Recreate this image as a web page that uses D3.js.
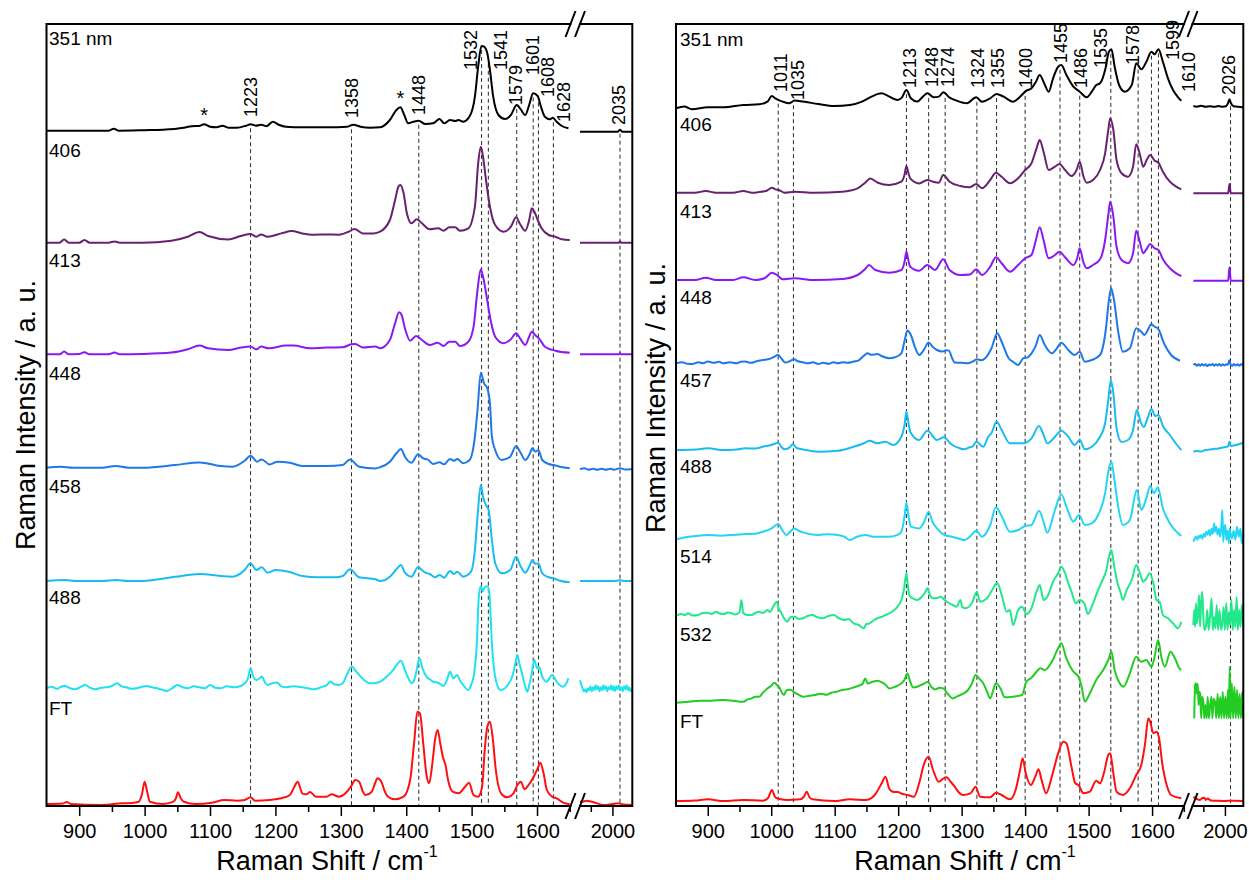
<!DOCTYPE html>
<html>
<head>
<meta charset="utf-8">
<script src="https://cdn.jsdelivr.net/npm/d3@7"></script>
<style>
  body { margin: 0; background: #fff; }
  svg { display: block; }
  text { font-family: "Liberation Sans", Arial, Helvetica, sans-serif; fill: #000; }
</style>
</head>
<body>
<svg id="chart" width="1249" height="882"></svg>
<script>
// ---------------------------------------------------------------------------
// Resonance Raman spectra at several excitation wavelengths plus FT-Raman.
// Each trace: [Raman shift (cm-1), intensity above its own baseline (a.u.)].
// "...Tail" arrays hold the part of a trace beyond the axis break.
// ---------------------------------------------------------------------------

// ---------- left panel ----------
const leftLabels  = ["351 nm", "406", "413", "448", "458", "488", "FT"];
const leftOffsets = [675.3, 563.3, 451.7, 338.3, 225, 117.7, 2];

const L351 = [[850,0],[900,0],[945,0],[953,2],[960,0],[1000,0.5],[1028,1],[1060,3],[1072,4.5],[1085,5],[1091,6.5],[1100,4],[1110,3.5],[1119,5],[1128,3],[1141,3],[1155,5],[1162,6.5],[1170,5],[1178,6],[1186,4.5],[1196,9],[1205,6],[1216,4],[1240,3.5],[1280,3.5],[1310,4],[1319,6],[1330,4],[1345,3],[1360,3.4],[1375,10.7],[1385,20.7],[1391,23.4],[1397,15.7],[1403,7.4],[1411,9],[1419,10],[1429,6.7],[1441,7.4],[1451,11.7],[1458,7.4],[1467,10.7],[1475,9.7],[1480,10.7],[1487,9],[1498,15.7],[1505,34],[1510,64],[1515,84.7],[1519,84],[1524,77.4],[1528,60.7],[1533,34],[1541,15.7],[1551,11.7],[1560,15.7],[1569,25.7],[1574,22.4],[1582,15.7],[1588,25.7],[1594,37.4],[1601,34.7],[1606,24],[1612,14],[1620,11.4],[1624,13],[1630,9],[1638,4.7],[1648,2.4]];
const L351Tail = [[1850,-1],[1900,-1],[1960,-1],[2025,-1],[2035,1],[2045,-1],[2092,-1]];

const L406 = [[850,0],[870,0],[877,3.3],[884,0],[900,0],[908,2.7],[916,0],[945,0],[954,1.3],[962,0],[997,0],[1041,2],[1066,6],[1084,10.7],[1097,6.7],[1128,3.3],[1147,6.7],[1162,8.7],[1171,6],[1178,8.3],[1188,6],[1209,9.3],[1225,11.7],[1241,9.3],[1259,8],[1278,8.3],[1297,8],[1312,11],[1321,13.7],[1334,9.3],[1350,9.3],[1360,11],[1375,22.7],[1383,42.7],[1388,56],[1391,57.7],[1396,49.4],[1401,29.4],[1408,19.4],[1416,23.4],[1424,19.4],[1436,13.4],[1449,14.4],[1457,12],[1466,15.4],[1475,15.4],[1482,12],[1495,14.4],[1505,36],[1510,79.4],[1514,96],[1517,87.7],[1522,62.7],[1528,36],[1536,17.7],[1549,11],[1560,16],[1568,25.4],[1574,18.7],[1582,12],[1588,22.7],[1592,34.4],[1596,31],[1601,22.7],[1607,14.4],[1618,7.7],[1628,6],[1638,3.4],[1650,2.7]];
const L406Tail = [[1850,0],[1950,0],[2030,0],[2035,1.5],[2040,0],[2092,0]];

const L413 = [[850,0],[870,0],[877,2.7],[884,0],[900,0.3],[908,2],[916,0],[945,0],[954,1.7],[962,0],[997,0.3],[1041,1.7],[1066,5],[1084,8.7],[1097,6],[1128,4.3],[1147,6.7],[1162,7.7],[1171,5],[1178,7.7],[1190,6],[1216,8.7],[1228,8.7],[1253,6],[1278,6.7],[1303,7],[1316,10],[1322,10.3],[1334,6.7],[1353,7.7],[1360,6],[1375,14.3],[1383,31],[1389,42],[1393,39.3],[1398,26],[1406,13.6],[1415,18.3],[1424,14.3],[1436,9.3],[1448,11.6],[1457,8.3],[1466,12.6],[1475,12.6],[1482,8.3],[1495,12.6],[1503,27.6],[1509,64.3],[1514,85],[1518,76],[1523,57.6],[1529,34.3],[1536,17.6],[1549,11],[1560,15],[1568,21],[1574,16],[1582,9.3],[1588,17.6],[1592,22.6],[1597,19.3],[1604,15],[1612,7.6],[1628,3.6],[1650,1.6]];
const L413Tail = [[1850,0],[2030,0],[2035,1.3],[2040,0],[2092,0]];

const L448 = [[850,0],[872,1],[890,0],[909,0],[935,0],[956,1.7],[975,0],[997,0],[1047,2.7],[1084,5.3],[1116,1.7],[1134,1],[1153,7],[1162,12],[1172,6],[1179,8.3],[1191,3.3],[1203,6],[1222,5],[1241,1.7],[1278,1.7],[1303,2.7],[1314,8.3],[1328,1],[1353,-0.7],[1360,0.4],[1375,6],[1385,14.4],[1392,18.7],[1398,11],[1408,5],[1418,13.4],[1426,9.4],[1434,7.7],[1441,3.7],[1451,5.4],[1458,3.4],[1467,8.7],[1473,7],[1478,8.7],[1487,4.4],[1497,7.7],[1505,31],[1509,57.7],[1514,95],[1519,84.4],[1524,79.4],[1528,64.4],[1531,31],[1536,17.7],[1546,7.7],[1559,11],[1568,21.7],[1574,16],[1582,7.7],[1588,12.7],[1593,19.4],[1598,16],[1602,17.7],[1608,7.7],[1618,3.7],[1625,2.7],[1635,1],[1650,-0.6]];
const L448Tail = [[1850,-1.6],[1870,-0.5],[1890,-2],[1910,-1],[1930,-2],[1950,-1],[1970,-2],[1990,-1],[2010,-2],[2035,-0.5],[2060,-1.8],[2092,-1.2]];

const L458 = [[850,0],[878,1],[895,0],[909,0],[935,0],[956,1],[975,0],[997,0],[1047,4.3],[1084,7],[1116,5],[1134,4.3],[1153,11],[1162,17.7],[1171,11],[1179,13.7],[1188,8.3],[1200,11],[1222,9],[1241,5],[1266,3.7],[1291,3.7],[1303,5],[1314,11.7],[1328,3.7],[1353,1.7],[1360,0],[1375,4.3],[1385,11.7],[1392,16],[1398,8.3],[1408,4.3],[1418,13.7],[1429,8.3],[1436,7],[1444,3.7],[1451,6],[1458,3.3],[1467,10],[1473,7],[1478,9.3],[1487,4.3],[1499,9.3],[1505,31],[1509,64.3],[1514,96],[1518,82.7],[1522,76],[1526,71],[1531,41],[1536,17.7],[1546,7.7],[1559,11],[1568,24.3],[1574,16],[1582,8.3],[1588,14.3],[1593,21],[1598,17],[1602,17.7],[1608,7.7],[1618,3.7],[1625,2.7],[1635,0.3],[1650,-1.3]];
const L458Tail = [[1850,0],[1950,0],[2000,0],[2035,0.7],[2060,0],[2092,0]];

const L488 = [[850,0],[858,1.5],[866,-0.5],[872,1.5],[878,2.3],[886,0],[894,-1],[901,1],[909,3.3],[917,0.5],[925,-1],[933,0.5],[941,1],[949,2],[958,5],[965,2],[972,1],[980,-0.5],[988,0],[996,1.5],[1003,2.3],[1011,1],[1019,0],[1027,-1.5],[1034,-2.7],[1042,0],[1050,3.3],[1058,1],[1066,0],[1075,2],[1084,1],[1092,0],[1100,3.3],[1108,0.5],[1116,0],[1125,2],[1137,1],[1146,2],[1153,5],[1158,10],[1162,20],[1166,12],[1171,8.3],[1176,10],[1179,11.7],[1184,6],[1188,3.3],[1195,5],[1202,5.7],[1209,2],[1216,1],[1228,2],[1241,1],[1250,0],[1259,-1],[1266,0],[1272,1.7],[1278,3],[1284,6.7],[1290,4],[1297,3.3],[1304,6],[1309,13.3],[1317,21.7],[1322,18],[1328,13.3],[1336,8],[1344,5],[1352,5],[1360,6.6],[1370,11.6],[1380,18.3],[1386,24],[1392,27.6],[1398,18.3],[1404,9],[1408,5],[1412,8],[1415,15],[1420,30],[1425,20],[1431,11.6],[1436,9],[1441,6.6],[1449,5.6],[1457,2.3],[1462,8],[1467,16.6],[1472,10],[1478,13.3],[1482,8],[1487,3.3],[1495,-1.7],[1499,3],[1503,11.6],[1508,45],[1511,92],[1514,102],[1517,97],[1520,101],[1524,102],[1527,96],[1531,45],[1536,11.6],[1544,-1.7],[1551,0],[1556,4],[1562,11.6],[1567,25],[1570,33.3],[1573,25],[1577,15],[1581,4],[1585,-3.4],[1588,3],[1591,11.6],[1596,28.3],[1600,20],[1603,21.6],[1608,11.6],[1615,6.6],[1619,10],[1623,13.3],[1627,10],[1630,6.6],[1635,3],[1640,1.6],[1644,4],[1648,10]];
const L488Tail = [[1850,8],[1856,4],[1862,0],[1868,-3],[1874,-1],[1880,-4],[1886,0],[1892,-2],[1898,2],[1904,-3],[1910,1],[1916,-2],[1922,3],[1928,-1],[1934,2],[1940,-3],[1946,1],[1952,-2],[1958,3],[1964,-1],[1970,2],[1976,-3],[1982,1],[1988,-1],[1994,3],[2000,-2],[2006,2],[2012,-3],[2018,2],[2024,-1],[2030,3],[2036,-2],[2042,1],[2048,-3],[2054,2],[2060,-1],[2066,3],[2072,-2],[2078,1],[2084,-3],[2092,0]];

const LFT = [[850,0],[875,0.5],[881,2],[887,0],[934,-1],[966,0.7],[980,1],[991,2.3],[996,10],[1000,22.3],[1004,12],[1008,2.3],[1028,0],[1044,2.3],[1048,6],[1051,11.7],[1055,6],[1060,2.3],[1078,0],[1103,1.3],[1122,4],[1141,3.3],[1153,4],[1162,6.7],[1169,3.3],[1191,4],[1209,5.7],[1222,9],[1229,17.3],[1234,22.3],[1238,16],[1241,10.7],[1247,9.7],[1253,12],[1262,7.3],[1278,7.3],[1286,9.7],[1297,7.3],[1309,12],[1316,18],[1322,24],[1328,22.3],[1334,12],[1338,9],[1347,12],[1352,20],[1356,25.7],[1362,22.3],[1367,13],[1372,7.3],[1383,4.7],[1396,7.3],[1406,24],[1412,60.7],[1417,92.3],[1421,90.7],[1426,60.7],[1431,29],[1435,20.7],[1440,40.7],[1444,64],[1448,74],[1452,60.7],[1456,47.3],[1460,39],[1464,24],[1471,12.3],[1480,10.7],[1490,17.3],[1496,21.3],[1503,9],[1510,7.3],[1516,17.3],[1520,54],[1524,77.3],[1528,82.3],[1532,67.3],[1537,34],[1545,10.7],[1554,6.7],[1564,10.7],[1570,19],[1575,22.3],[1581,14.7],[1587,19],[1595,27.3],[1601,35.7],[1605,41.3],[1610,30.7],[1615,14],[1623,7.3],[1630,5.7],[1640,1.3],[1650,-0.3]];
const LFTTail = [[1850,2.3],[1858,2.3],[1881,3.3],[1900,2.5],[1920,1.3],[1958,-1],[2000,0],[2028,0.7],[2050,-0.5],[2092,-1]];

const leftMain = [L351, L406, L413, L448, L458, L488, LFT];
const leftTail = [L351Tail, L406Tail, L413Tail, L448Tail, L458Tail, L488Tail, LFTTail];

// band positions marked on the left panel (cm-1)
const leftBands = [1223, 1358, 1448, 1532, 1541, 1579, 1601, 1608, 1628];
const leftTailBands = [2035];
// bands flagged with an asterisk on the top trace
const leftStarred = [1091, 1391];

// ---------- right panel ----------
const rightLabels  = ["351 nm", "406", "413", "448", "457", "488", "514", "532", "FT"];
const rightOffsets = [697.7, 613.3, 526, 442.7, 356, 269.3, 191, 104.3, 5];

const R351 = [[850,0],[863,1.7],[875,-1],[900,1],[925,1],[956,3.3],[981,4],[994,6.7],[1001,12.3],[1007,9.7],[1018,6.7],[1028,5],[1037,7.7],[1050,6.7],[1074,4.3],[1099,2.3],[1124,3.3],[1143,6.7],[1158,11.7],[1174,15],[1183,12.7],[1199,8.3],[1206,11],[1213,18.3],[1220,10],[1230,6.7],[1239,11.7],[1246,15],[1256,11],[1264,11.7],[1271,16],[1281,10.7],[1292,7.7],[1308,5],[1323,11],[1332,6.6],[1345,10],[1355,14.3],[1366,11.6],[1381,6.6],[1392,11.6],[1402,17.6],[1410,20],[1417,26.6],[1423,33.3],[1430,25],[1437,16.6],[1444,30],[1452,41.6],[1457,43.3],[1465,33.3],[1476,21.6],[1486,16.6],[1497,11],[1505,16.6],[1512,23.3],[1518,25],[1526,38.3],[1532,56.6],[1536,59],[1541,41.6],[1548,23.3],[1557,16.6],[1568,23.3],[1575,45],[1583,39],[1591,46.6],[1599,56.6],[1604,54],[1610,59],[1617,46.6],[1625,30],[1633,18.3],[1641,11],[1646,7.6]];
const R351Tail = [[1854,2.3],[1870,1.6],[1890,2.5],[1910,1.5],[1930,2],[1950,1.6],[1970,2.2],[1990,1.6],[2005,2],[2014,5],[2021,9],[2028,5],[2040,2],[2060,1.6],[2085,1]];

const R406 = [[850,0],[880,0],[897,1.7],[913,0],[940,0],[956,1.7],[970,0],[981,0.7],[993,2],[1001,5],[1007,3.3],[1012,2.7],[1021,0],[1037,1],[1068,0],[1112,1],[1136,4.3],[1148,10],[1156,14.3],[1168,10],[1186,7.7],[1205,11],[1210,18],[1213,26.7],[1216,20],[1219,14.3],[1233,9.3],[1246,12.7],[1255,11],[1264,10],[1271,17.7],[1281,11],[1298,6.7],[1313,5.5],[1323,8.7],[1332,4.4],[1345,12.7],[1354,20],[1363,16],[1376,9.4],[1389,14.4],[1400,22.7],[1410,29.4],[1418,44.4],[1423,52.7],[1429,41],[1437,22.7],[1447,26],[1454,28.7],[1463,22.7],[1473,16.7],[1481,22.7],[1486,31],[1492,16],[1497,10],[1507,12.7],[1518,22.7],[1526,39.4],[1531,62.7],[1534,74.4],[1539,62.7],[1544,32.7],[1552,19.4],[1562,16],[1570,26],[1575,48.4],[1581,37.7],[1586,26],[1592,33.4],[1597,37.7],[1604,32],[1610,30],[1617,21],[1628,11],[1638,6],[1646,3.4]];
const R406Tail = [[1854,-0.6],[1950,-0.6],[2015,-0.6],[2021,8.7],[2027,-0.6],[2085,-0.6]];

const R413 = [[850,0],[880,0],[897,2.3],[913,0],[940,0],[956,2.7],[975,0],[990,2],[1001,7.3],[1009,5],[1018,0.7],[1037,1.7],[1068,0],[1112,1],[1136,5],[1148,11],[1154,15],[1164,10],[1186,7.3],[1205,10],[1210,18],[1213,28.3],[1216,20],[1219,13.3],[1233,9.3],[1246,15],[1258,10],[1271,20.7],[1281,10],[1298,5],[1313,5.5],[1323,10.7],[1332,5],[1345,13.3],[1354,22.7],[1363,16.7],[1376,8.3],[1389,15],[1400,21.7],[1410,25],[1417,40],[1423,52.7],[1429,40],[1437,21.7],[1447,25],[1454,28.3],[1463,22.7],[1476,15],[1482,21.7],[1486,31.7],[1492,17.3],[1497,11.7],[1507,15],[1518,20.7],[1526,40],[1531,65],[1534,78.3],[1539,63.3],[1544,33.3],[1552,20],[1562,16.7],[1570,26.7],[1575,49.3],[1581,37.3],[1586,26.7],[1592,31.7],[1597,36],[1604,31.7],[1610,30],[1617,20.7],[1628,11.7],[1638,6.7],[1646,4]];
const R413Tail = [[1854,-0.7],[1950,-0.7],[2015,-0.7],[2021,12.7],[2027,-0.7],[2085,-0.7]];

const R448 = [[850,0],[860,1],[868,-0.5],[876,-0.7],[885,1],[893,0],[900,1.7],[910,0.5],[918,1.5],[925,0],[935,1],[945,0],[952,1.5],[959,1.7],[968,0.5],[977,2],[987,3.3],[995,4],[1003,6],[1011,8.3],[1017,4],[1022,0.7],[1029,2],[1036,4],[1042,2],[1050,1],[1058,0],[1066,1],[1074,-0.7],[1082,0.5],[1090,-0.5],[1098,1],[1105,0],[1113,1],[1120,0.5],[1130,1.7],[1138,3],[1145,7],[1152,10],[1158,8.5],[1167,9.3],[1175,7],[1186,5],[1195,6],[1205,10],[1211,25],[1214.5,32.7],[1220,28.3],[1226,17],[1233,8.3],[1240,13],[1248,20.7],[1255,16],[1261,13.3],[1270,11.7],[1276,13],[1280,12.7],[1285,5],[1289,0.7],[1300,0.5],[1310,0],[1317,1.6],[1324,4],[1331,3],[1337,5],[1347,15],[1356,30],[1363,21.6],[1374,5],[1382,1],[1389,-1.7],[1397,5],[1404,6],[1410,10],[1417,18],[1423,28.3],[1431,18.3],[1442,10],[1450,15],[1457,20.6],[1468,13.3],[1478,8.3],[1486,11.6],[1494,1.6],[1505,3.3],[1518,8.3],[1527,33.3],[1532,63.3],[1535.6,75],[1540,63.3],[1547,30],[1554,11.6],[1565,15],[1575,35],[1583,31.6],[1588,28.3],[1593,33],[1599,39.3],[1603,37],[1609,35],[1620,18.3],[1630,8.3],[1644,2.6]];
const R448Tail = [[1854,-1.7],[1862,-0.5],[1870,-2.5],[1878,-1],[1886,-2.5],[1894,-0.8],[1902,-2.2],[1910,-1],[1918,-2.8],[1926,-1.2],[1934,-2],[1942,-0.6],[1950,-2.4],[1958,-1],[1966,-2.2],[1974,-0.8],[1982,-2.5],[1990,-1],[1998,-2.2],[2006,-1],[2014,-1.5],[2020,3],[2026,-1],[2034,-2.4],[2042,-0.8],[2050,-2.2],[2058,-1],[2066,-2.4],[2074,-1],[2085,-2]];

const R457 = [[850,0],[880,0.5],[900,1.7],[925,0],[945,0.5],[959,1.7],[975,1.5],[987,3.3],[1000,5],[1011,7.3],[1016,3],[1021,0.7],[1030,3],[1034,6],[1040,2],[1049,0.7],[1074,-1.7],[1105,-0.7],[1130,3.3],[1147,7],[1155,9.3],[1167,6.7],[1180,8.3],[1192,5],[1205,13.3],[1210,25],[1213,38.3],[1216,28],[1219,18.3],[1233,10],[1246,19.3],[1261,10],[1272,12.7],[1283,6],[1297,1.7],[1304,0.7],[1313,2.7],[1317,3.3],[1323,8.3],[1334,3.3],[1342,13.3],[1347,17],[1355,28.3],[1363,20],[1376,6.7],[1397,6.7],[1410,11.7],[1422,24],[1429,15],[1435,6.7],[1447,13.3],[1457,19.3],[1468,13.3],[1478,5],[1486,10],[1494,0.7],[1505,3.3],[1518,13.3],[1526,26.7],[1531,50],[1535,70],[1539,56.7],[1544,22],[1552,8],[1562,10],[1570,20],[1576,40],[1582,28],[1587,23],[1593,32],[1599,41],[1605,34],[1610,35],[1617,24],[1628,15],[1638,6],[1646,0]];
const R457Tail = [[1854,-1.7],[1870,-1],[1890,-1.5],[1910,0],[1930,0.5],[1950,1],[1970,1.5],[1990,2.5],[2005,3],[2015,4],[2021,8.3],[2027,4],[2040,4.5],[2060,5.5],[2085,7.3]];

const R488 = [[850,-2.7],[869,0],[885,1],[900,1.7],[920,1],[937,1.7],[962,2.7],[975,3],[987,5],[1000,8],[1011,12.7],[1018,6],[1024,1.7],[1030,5],[1036,8.3],[1043,6],[1050,4.3],[1062,2.5],[1074,1.7],[1090,2.5],[1105,1.7],[1115,0],[1124,-3.3],[1135,0],[1149,1.7],[1160,0],[1168,0],[1186,0],[1200,2],[1205,5],[1210,20],[1213,34],[1216,22],[1220,10],[1233,8.3],[1241,15],[1248,25],[1254,15],[1261,8.3],[1273,1.7],[1285,0],[1296,-2],[1304,-3.3],[1314,0.7],[1323,6],[1332,0],[1345,11.7],[1354,29.4],[1363,20.7],[1376,5],[1389,6.7],[1400,10.7],[1410,11.7],[1422,26],[1429,15],[1435,4],[1447,26.7],[1457,42.4],[1465,30],[1476,15],[1485,21.7],[1494,11.7],[1505,13.4],[1515,21.7],[1526,43.4],[1532,68.4],[1536,75],[1540,60],[1547,28.4],[1554,11.7],[1565,16.7],[1576,46.7],[1583,26.7],[1591,38.4],[1597,50.7],[1603,43.4],[1609,49.4],[1617,28.4],[1628,13.4],[1646,0.7]];
const R488Tail = [[1854,-5],[1860,-2],[1866,0],[1872,-3],[1878,1],[1884,-1],[1890,1.7],[1896,-2],[1902,3],[1908,0],[1914,5],[1920,2],[1926,6.7],[1932,1],[1938,8],[1944,3],[1950,13.3],[1955,5],[1960,10],[1966,2],[1972,8],[1978,0],[1984,12],[1988,26.7],[1992,-5],[1997,8],[2002,11.7],[2007,-3],[2012,6],[2018,-6.6],[2022,8],[2026,3.3],[2032,-2],[2040,6],[2048,-3],[2056,10],[2064,0],[2072,8],[2078,-6.6],[2085,2]];

const R514 = [[850,-1],[858,1],[864,0],[869,1.7],[876,-0.5],[885,0],[892,2],[900,2.3],[906,1],[913,3.3],[919,1.5],[925,1],[932,2.5],[938,1.7],[944,0.5],[950,3],[953,15],[956,2],[962,0],[969,0],[975,2],[981,3.3],[987,2],[994,5],[998,3],[1003,8.3],[1009,13.3],[1012,6],[1015,3.3],[1020,-3],[1025,-6.7],[1031,-2],[1037,-1.7],[1043,-4],[1050,-3.3],[1057,-1],[1065,0],[1072,-2],[1081,-3.3],[1090,-1],[1099,0],[1106,-3],[1115,-5],[1122,-4],[1130,-8.3],[1138,-10],[1146,-13.3],[1150,-9],[1155,-8.3],[1162,-5],[1168,-3],[1174,-1.7],[1180,0],[1186,1.7],[1192,4],[1199,8.3],[1205,15],[1209,25],[1213,41.7],[1216,25],[1219,18.3],[1225,16],[1230,15],[1237,18],[1242,22],[1246,26.7],[1250,20],[1255,16.7],[1261,17],[1267,18.3],[1273,15],[1280,12],[1286,10],[1292,8.3],[1298,15],[1301,8],[1306,6.7],[1316,11.7],[1324,23.3],[1329,13.3],[1340,16.7],[1348,25],[1356,32.3],[1363,20],[1371,3.3],[1376,5],[1381,-10],[1389,5],[1395,8.3],[1402,1],[1410,6.7],[1418,23.3],[1423,30],[1429,15],[1435,18.3],[1444,33.3],[1452,41.7],[1457,48.3],[1463,41.7],[1468,31.7],[1473,23.3],[1480,11.7],[1486,15],[1493,11.7],[1499,1],[1507,11.7],[1515,25],[1522,35],[1528,45],[1532,58.3],[1536,65],[1540,50],[1545,33.3],[1550,23.3],[1554,15],[1560,25],[1568,35],[1575,50],[1581,41.7],[1586,33.3],[1591,36.7],[1596,41.7],[1602,31.7],[1607,15],[1612,13.3],[1617,0],[1625,-3.3],[1633,-8.3],[1641,-13.3],[1646,-6.7]];
const R514Tail = [[1854,-10],[1858,5],[1862,-11.7],[1866,11.7],[1870,-8.3],[1875,0],[1880,20],[1885,-11.7],[1890,13.3],[1895,23.3],[1900,-1.7],[1905,-15],[1912,-11.7],[1918,5],[1925,-15],[1931,-1.7],[1938,16.7],[1944,-15],[1950,-1.7],[1956,-13.3],[1962,10],[1968,-15],[1975,5],[1982,-15],[1988,-8],[1994,8],[2000,-15],[2006,12],[2012,-15],[2018,3],[2024,-10],[2030,15],[2036,-15],[2042,5],[2048,-12],[2054,18],[2060,-15],[2066,5],[2072,-12],[2078,10],[2085,-12]];

const R532 = [[850,-1],[870,0],[888,1],[905,1],[925,1.7],[940,1],[956,0],[962,2],[969,3.3],[975,5],[981,5],[987,9],[994,13.3],[1000,16],[1005,19],[1010,16],[1012,15],[1016,10],[1020,6.7],[1022,9],[1025,11.7],[1030,12],[1037,9],[1043,7],[1050,5],[1060,6],[1068,6.7],[1078,8],[1087,7],[1095,9],[1103,10],[1112,11.7],[1120,12.5],[1130,14.3],[1138,16],[1144,18],[1148,23.3],[1152,18.3],[1160,20],[1168,21],[1175,19],[1180,17],[1186,13.3],[1195,15],[1205,18.3],[1210,22],[1214.5,28.3],[1219,20],[1223.5,14.3],[1230,15],[1236,16.7],[1241,18],[1246.5,20],[1252,15],[1258,12.3],[1265,14],[1271,13.3],[1278,8],[1286,3.3],[1292,5],[1298,6.7],[1305,9],[1310,11.7],[1316,18],[1322,26.7],[1328,23],[1334,18.4],[1340,10],[1345,3.4],[1350,12],[1354,18.4],[1361,13.4],[1368,4.4],[1381,5],[1395,6.7],[1402,20],[1410,24],[1416,28.4],[1424,33.4],[1431,31.7],[1442,40],[1452,53.4],[1457,58.4],[1465,43.4],[1476,30],[1484,25],[1489,15],[1494,0],[1502,8.4],[1512,21.7],[1523,31.7],[1531,41.7],[1536,50],[1541,31.7],[1549,18.4],[1555,15],[1565,28.4],[1575,45],[1583,40],[1591,41.7],[1599,35],[1604,45],[1609.5,61.7],[1615,43.4],[1620,35],[1629,50],[1636,43.4],[1643,33.4],[1646,31.7]];
const R532Tail = [[1858,-16.6],[1862,16.7],[1866,18.4],[1870,8],[1874,18],[1878,-3.3],[1882,10],[1886,6.7],[1890,-16.6],[1895,5],[1900,0],[1905,-16.6],[1910,-3.3],[1916,-16.6],[1920,5],[1926,-16.6],[1932,-3],[1938,5],[1942,-16.6],[1948,3],[1954,0],[1960,-16.6],[1966,8],[1972,-16.6],[1978,5],[1984,-16.6],[1990,10],[1996,-16.6],[2002,5],[2008,-16.6],[2014,12],[2018,-16.6],[2022,35],[2026,-16.6],[2032,18.4],[2038,-16.6],[2044,15],[2050,-16.6],[2056,12],[2062,-16.6],[2068,8],[2074,-16.6],[2080,10],[2085,-16.6]];

const RFT = [[850,0],[880,0.5],[900,1.7],[925,0],[956,1],[987,0.3],[995,3],[1001,11],[1006,4],[1009,2.7],[1025,1],[1046,1.7],[1051,4],[1056,9.3],[1060,4],[1065,1.7],[1099,0],[1124,1.7],[1149,1],[1158,3],[1165,7.7],[1174,17.7],[1180,24.3],[1186,12.3],[1193,9],[1199,9],[1207,7],[1215,6],[1225,4.3],[1233,17.7],[1241,37.7],[1248,44.3],[1255,31],[1264,19.3],[1270,22],[1276,23.7],[1283,19],[1289,14.3],[1295,9],[1301,6],[1314,7.7],[1322,14.3],[1329,4.3],[1345,3.7],[1354,8.3],[1363,6],[1376,1.7],[1385,11],[1392,31],[1396,42.7],[1401,27.7],[1409,16],[1416,24.3],[1421,31.7],[1426,21],[1433,7.7],[1442,24.3],[1452,47.7],[1460,59.3],[1465,57.7],[1473,34.3],[1479,17.7],[1484,16],[1492,7.7],[1502,9.3],[1512,20.3],[1518,17.7],[1524,27.7],[1531,46],[1534,47.7],[1539,27.7],[1544,9.3],[1554,6],[1565,12.7],[1575,26],[1583,36],[1589,57.7],[1594,82.7],[1597,79.3],[1602,67.7],[1607,69.3],[1611,62.7],[1616,37.7],[1623,16],[1630,6],[1646,2.7]];
const RFTTail = [[1854,4.3],[1870,2],[1885,1],[1895,3],[1905,3.3],[1912,1],[1920,2.5],[1935,0.5],[1960,0.3],[2000,0],[2040,0.3],[2085,0]];

const rightMain = [R351, R406, R413, R448, R457, R488, R514, R532, RFT];
const rightTail = [R351Tail, R406Tail, R413Tail, R448Tail, R457Tail, R488Tail, R514Tail, R532Tail, RFTTail];

const rightBands = [1011, 1035, 1213, 1248, 1274, 1324, 1355, 1400, 1455, 1486, 1535, 1578, 1599, 1610];
const rightTailBands = [2026];

// axis ticks
const mainMajorTicks = [900, 1000, 1100, 1200, 1300, 1400, 1500, 1600];
const mainMinorTicks = [950, 1050, 1150, 1250, 1350, 1450, 1550, 1650];
const tailMajorTicks = [2000];
const tailMinorTicks = [1900];

// ---------------------------------------------------------------------------
// styling & layout
// ---------------------------------------------------------------------------
const leftColors  = ["#000000", "#682070", "#8a18f2", "#1e78e8", "#19bcf0", "#1ee2f0", "#ff1010"];
const rightColors = ["#000000", "#682070", "#8a18f2", "#1e78e8", "#19bcf0", "#22d6f4", "#22e88c", "#22cc22", "#ff1010"];

const FONT = '"Liberation Sans", Arial, Helvetica, sans-serif';

const panels = [
  {
    labels: leftLabels, offsets: leftOffsets, main: leftMain, tail: leftTail, colors: leftColors,
    frame: { x0: 46.5, x1: 632.3, y0: 24, y1: 806 },
    mainDomain: [850, 1655], mainRange: [46.5, 573],
    tailDomain: [1850, 2092], tailRange: [580, 632.3],
    breakAt: [570.5, 580],
    bands: leftBands, tailBands: leftTailBands,
    // the band labels of this panel are quoted on the reference calibration;
    // this maps them onto the shift axis the spectra are plotted on
    bandCal: d3.scaleLinear().domain([1223, 1628]).range([1162, 1625]),
    bandLabelDx:     [0, 0, 0, -10.7, 11.7, -1.7, -0.6, 9.4, 10],
    bandLabelBottom: [117, 118, 115, 70, 70, 105, 75, 97, 122],
    tailLabelDx: [-1], tailLabelBottom: [125],
    starred: leftStarred,
    labelX: 49, labelBaselines: [45, 157, 267, 380, 493, 604, 715],
    yTitle: { x: 25, y: 415 }, xTitle: { x: 327, y: 870 }
  },
  {
    labels: rightLabels, offsets: rightOffsets, main: rightMain, tail: rightTail, colors: rightColors,
    frame: { x0: 676, x1: 1243.3, y0: 24, y1: 806 },
    mainDomain: [850, 1655], mainRange: [676, 1187],
    tailDomain: [1850, 2085], tailRange: [1192.5, 1243.3],
    breakAt: [1184, 1192.5],
    bands: rightBands, tailBands: rightTailBands,
    bandCal: d => d,
    bandLabelDx:     [2.6, 3.9, 3.3, 2.8, 2, 0.6, 0.9, 0.7, 0.7, 1, -10.2, -5.5, 20.6, 30.3],
    bandLabelBottom: [92, 100, 88, 87, 87, 88, 88, 88, 63, 88, 68, 65, 60, 92],
    tailLabelDx: [-1.6], tailLabelBottom: [95],
    starred: [],
    labelX: 680, labelBaselines: [46, 131, 218, 304, 387, 473, 563, 641, 728],
    yTitle: { x: 655, y: 398 }, xTitle: { x: 965, y: 870 }
  }
];

const svg = d3.select("#chart");

// shared intensity scale (a.u.)
const y = d3.scaleLinear().domain([0, 782]).range([806, 24]);

function valueAt(series, v) {
  const i = d3.bisector(d => d[0]).left(series, v);
  if (i <= 0) return series[0][1];
  if (i >= series.length) return series[series.length - 1][1];
  const a = series[i - 1], b = series[i];
  const t = (v - a[0]) / (b[0] - a[0]);
  return a[1] + t * (b[1] - a[1]);
}

panels.forEach(p => {
  const g = svg.append("g");
  const xMain = d3.scaleLinear().domain(p.mainDomain).range(p.mainRange);
  const xTail = d3.scaleLinear().domain(p.tailDomain).range(p.tailRange);
  const f = p.frame;

  // --- dashed band markers (from just under the top trace to the axis)
  const top = p.offsets[0];
  const bandG = g.append("g").attr("stroke", "#2a2a2a").attr("stroke-width", 1)
    .attr("stroke-dasharray", "4,3");
  p.bands.forEach(b => {
    const pos = p.bandCal(b);
    const yTop = y(top + valueAt(p.main[0], pos)) + 4;
    bandG.append("line").attr("x1", xMain(pos)).attr("x2", xMain(pos))
      .attr("y1", yTop).attr("y2", f.y1);
  });
  p.tailBands.forEach(b => {
    const yTop = y(top + valueAt(p.tail[0], b)) + 4;
    bandG.append("line").attr("x1", xTail(b)).attr("x2", xTail(b))
      .attr("y1", yTop).attr("y2", f.y1);
  });

  // --- spectra
  p.main.forEach((s, i) => {
    const off = p.offsets[i];
    const lineMain = d3.line().x(d => xMain(d[0])).y(d => y(off + d[1])).curve(d3.curveMonotoneX);
    const lineTail = d3.line().x(d => xTail(d[0])).y(d => y(off + d[1])).curve(d3.curveMonotoneX);
    g.append("path").attr("d", lineMain(s)).attr("fill", "none")
      .attr("stroke", p.colors[i]).attr("stroke-width", 2).attr("stroke-linejoin", "round");
    g.append("path").attr("d", lineTail(p.tail[i])).attr("fill", "none")
      .attr("stroke", p.colors[i]).attr("stroke-width", 2).attr("stroke-linejoin", "round");
  });

  // --- trace labels
  p.labels.forEach((t, i) => {
    g.append("text").attr("x", p.labelX).attr("y", p.labelBaselines[i])
      .attr("font-size", 19).text(t);
  });

  // --- band labels (rotated)
  const addBandLabel = (x, bottom, txt) => {
    g.append("text")
      .attr("transform", `translate(${x},${bottom}) rotate(-90)`)
      .attr("dy", "0.36em").attr("font-size", 18).text(txt);
  };
  p.bands.forEach((b, i) => addBandLabel(xMain(p.bandCal(b)) + p.bandLabelDx[i], p.bandLabelBottom[i], b));
  p.tailBands.forEach((b, i) => addBandLabel(xTail(b) + p.tailLabelDx[i], p.tailLabelBottom[i], b));

  // --- asterisks over flagged bands of the top trace
  p.starred.forEach(b => {
    g.append("text").attr("x", xMain(b)).attr("y", y(top + valueAt(p.main[0], b)) - 2)
      .attr("text-anchor", "middle").attr("font-size", 20).text("*");
  });

  // --- axes (ticks only; frame drawn separately)
  const styleAxis = sel => {
    sel.select(".domain").remove();
    sel.attr("font-family", FONT).attr("font-size", 20);
    sel.selectAll(".tick line").attr("stroke-width", 1.5);
    sel.selectAll(".tick text").attr("fill", "#000");
  };
  g.append("g").attr("transform", `translate(0,${f.y1})`)
    .call(d3.axisBottom(xMain).tickValues(mainMajorTicks).tickSize(10).tickPadding(8).tickFormat(d3.format("d")))
    .call(styleAxis);
  g.append("g").attr("transform", `translate(0,${f.y1})`)
    .call(d3.axisBottom(xMain).tickValues(mainMinorTicks).tickSize(6).tickFormat(""))
    .call(styleAxis);
  g.append("g").attr("transform", `translate(0,${f.y1})`)
    .call(d3.axisBottom(xTail).tickValues(tailMajorTicks).tickSize(10).tickPadding(8).tickFormat(d3.format("d")))
    .call(styleAxis);
  g.append("g").attr("transform", `translate(0,${f.y1})`)
    .call(d3.axisBottom(xTail).tickValues(tailMinorTicks).tickSize(6).tickFormat(""))
    .call(styleAxis);

  // --- frame with a gap at the axis break
  const [b0, b1] = p.breakAt;
  const frame = g.append("g").attr("stroke", "#000").attr("stroke-width", 2).attr("fill", "none");
  frame.append("path").attr("d",
    `M${f.x0},${f.y0}V${f.y1}` +
    `M${f.x1},${f.y0}V${f.y1}` +
    `M${f.x0},${f.y0}H${b0}M${b1},${f.y0}H${f.x1}` +
    `M${f.x0},${f.y1}H${b0}M${b1},${f.y1}H${f.x1}`)
    .attr("stroke-linecap", "square");
  [f.y0, f.y1].forEach(yy => {
    [b0, b1].forEach(bx => {
      frame.append("line").attr("x1", bx - 5).attr("y1", yy + 13)
        .attr("x2", bx + 5).attr("y2", yy - 13).attr("stroke-width", 2);
    });
  });

  // --- axis titles
  const xt = g.append("text").attr("x", p.xTitle.x).attr("y", p.xTitle.y)
    .attr("text-anchor", "middle").attr("font-size", 27);
  xt.append("tspan").text("Raman Shift / cm");
  xt.append("tspan").attr("font-size", 16).attr("dy", -13).text("-1");

  g.append("text")
    .attr("transform", `translate(${p.yTitle.x},${p.yTitle.y}) rotate(-90)`)
    .attr("text-anchor", "middle").attr("dy", "0.36em").attr("font-size", 27)
    .text("Raman Intensity / a. u.");
});
</script>
</body>
</html>
